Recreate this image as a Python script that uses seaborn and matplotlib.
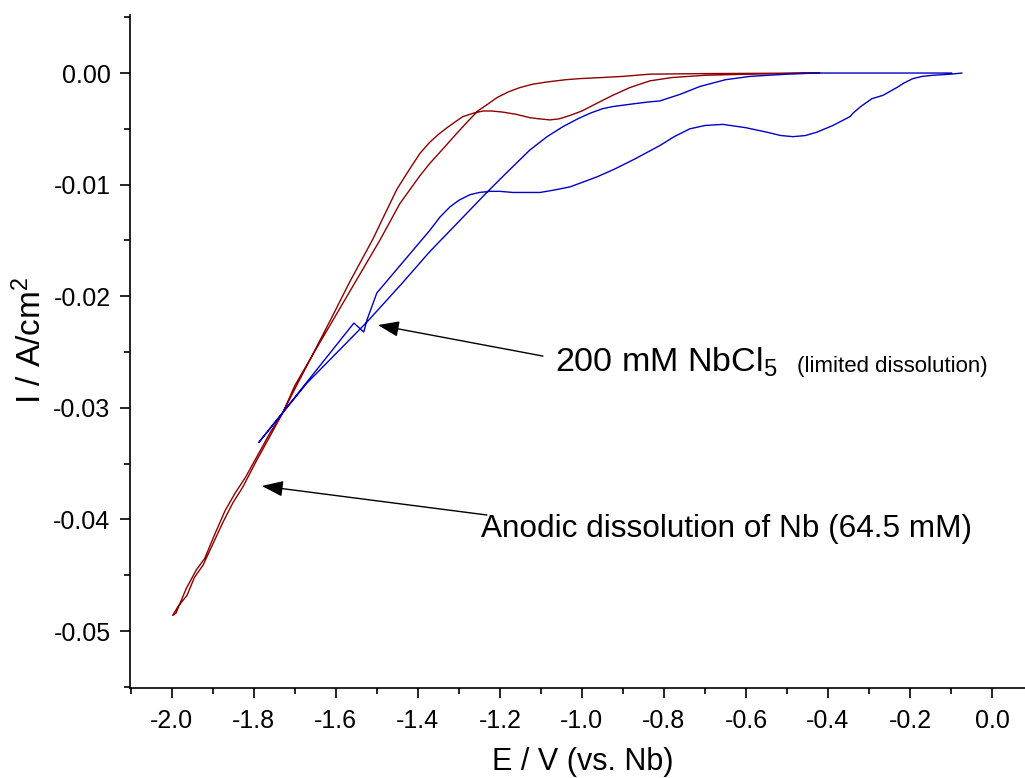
import numpy as np
import pandas as pd
import matplotlib
matplotlib.use("Agg")
import matplotlib.pyplot as plt
import seaborn as sns
from matplotlib.ticker import MultipleLocator, FormatStrFormatter

# ---------------- data ----------------
# Nb anodic dissolution (64.5 mM) - branch with hump/dip, right -> left
nb_fwd_E = [-0.42, -0.59, -0.70, -0.78, -0.834, -0.883, -0.925, -0.963, -1.000, -1.029,
            -1.055, -1.078, -1.105, -1.127, -1.160, -1.193, -1.220, -1.241, -1.265, -1.290,
            -1.310, -1.329, -1.350, -1.371, -1.395, -1.420, -1.451, -1.480, -1.510, -1.538,
            -1.566, -1.610, -1.659, -1.700, -1.729, -1.760, -1.793, -1.827, -1.851, -1.876,
            -1.900, -1.924, -1.945, -1.963, -1.985, -1.998]
nb_fwd_I = [0.0, -0.0001, -0.0002, -0.0004, -0.0007, -0.0013, -0.0020, -0.0027, -0.0034, -0.0038,
            -0.0041, -0.0042, -0.0041, -0.0040, -0.0037, -0.0035, -0.0034, -0.0034, -0.0036, -0.0039,
            -0.0044, -0.0049, -0.0055, -0.0062, -0.0072, -0.0086, -0.0104, -0.0126, -0.0149, -0.0168,
            -0.0187, -0.0219, -0.0254, -0.0283, -0.0304, -0.0325, -0.0347, -0.0371, -0.0385, -0.0403,
            -0.0422, -0.0441, -0.0452, -0.0468, -0.0478, -0.0486]
# return branch, left -> right
nb_rev_E = [-1.998, -1.990, -1.965, -1.940, -1.920, -1.895, -1.870, -1.845, -1.820, -1.790,
            -1.760, -1.729, -1.700, -1.659, -1.600, -1.549, -1.493, -1.444, -1.395, -1.371,
            -1.339, -1.305, -1.280, -1.254, -1.230, -1.207, -1.180, -1.151, -1.120, -1.085,
            -1.040, -1.005, -0.950, -0.900, -0.834, -0.700, -0.42]
nb_rev_I = [-0.0486, -0.0484, -0.0462, -0.0445, -0.0435, -0.0413, -0.0392, -0.0376, -0.0362, -0.0342,
            -0.0322, -0.0304, -0.0280, -0.0254, -0.0217, -0.0185, -0.0150, -0.0117, -0.0092, -0.0081,
            -0.0068, -0.0054, -0.0044, -0.0034, -0.0028, -0.0022, -0.0017, -0.0013, -0.0010, -0.0008,
            -0.0006, -0.0005, -0.0004, -0.0003, -0.0001, -0.00005, 0.0]

# 200 mM NbCl5 - wavy branch, right -> left (incl. jag)
nbcl_fwd_E = [-0.073, -0.10, -0.144, -0.170, -0.193, -0.215, -0.232, -0.266, -0.293, -0.320,
              -0.339, -0.346, -0.388, -0.427, -0.455, -0.485, -0.515, -0.549, -0.600, -0.656,
              -0.700, -0.737, -0.775, -0.810, -0.871, -0.920, -0.963, -1.029, -1.070, -1.102,
              -1.135, -1.168, -1.200, -1.224, -1.250, -1.273, -1.300, -1.322, -1.346, -1.371,
              -1.500, -1.524, -1.532, -1.556, -1.788]
nbcl_fwd_I = [0.0, -0.0001, -0.0002, -0.0003, -0.0005, -0.0009, -0.0013, -0.0020, -0.0023, -0.0030,
              -0.0036, -0.0039, -0.0047, -0.0053, -0.0056, -0.0057, -0.0056, -0.0053, -0.0049, -0.0046,
              -0.0047, -0.0050, -0.0057, -0.0065, -0.0077, -0.0086, -0.0093, -0.0102, -0.0105, -0.0107,
              -0.0107, -0.0107, -0.0106, -0.0106, -0.0107, -0.0109, -0.0114, -0.0120, -0.0129, -0.0141,
              -0.0197, -0.0221, -0.0232, -0.0224, -0.0331]
# return branch, left -> right
nbcl_rev_E = [-1.788, -1.671, -1.524, -1.440, -1.371, -1.300, -1.232, -1.180, -1.127, -1.085,
              -1.046, -1.010, -0.980, -0.950, -0.924, -0.883, -0.840, -0.810, -0.760, -0.712,
              -0.650, -0.590, -0.500, -0.427, -0.250, -0.098]
nbcl_rev_I = [-0.0331, -0.0278, -0.0223, -0.0189, -0.0160, -0.0133, -0.0107, -0.0088, -0.0069, -0.0057,
              -0.0048, -0.0041, -0.0036, -0.0032, -0.0030, -0.0028, -0.0026, -0.0025, -0.0019, -0.0012,
              -0.0006, -0.0003, -0.0001, 0.0, 0.0, 0.0]

x_ticks = [-2.0, -1.8, -1.6, -1.4, -1.2, -1.0, -0.8, -0.6, -0.4, -0.2, 0.0]
y_ticks = [0.00, -0.01, -0.02, -0.03, -0.04, -0.05]

label_nb = "Anodic dissolution of Nb (64.5 mM)"
label_nbcl = "200 mM NbCl$_5$"
label_nbcl_note = "(limited dissolution)"

# ---------------- styling ----------------
sns.set_style("ticks")
plt.rcParams["font.family"] = ["Liberation Sans", "DejaVu Sans"]
plt.rcParams["mathtext.fontset"] = "custom"
plt.rcParams["mathtext.rm"] = "Liberation Sans"
plt.rcParams["mathtext.it"] = "Liberation Sans"
plt.rcParams["mathtext.bf"] = "Liberation Sans"
plt.rcParams["axes.unicode_minus"] = False
for k in ["text.color", "axes.labelcolor", "xtick.color", "ytick.color", "axes.edgecolor"]:
    plt.rcParams[k] = "black"

df = pd.concat([
    pd.DataFrame({"E": nb_fwd_E + nb_rev_E, "I": nb_fwd_I + nb_rev_I, "trace": "Nb"}),
    pd.DataFrame({"E": nbcl_fwd_E + nbcl_rev_E, "I": nbcl_fwd_I + nbcl_rev_I, "trace": "NbCl5"}),
], ignore_index=True)

fig = plt.figure(figsize=(10.25, 7.78), dpi=100)
ax = fig.add_axes([130 / 1025, 1 - 688 / 778, (1025 - 130) / 1025, (688 - 15) / 778])

sns.lineplot(data=df, x="E", y="I", hue="trace", units="trace", estimator=None, sort=False,
             palette={"Nb": "#8E0000", "NbCl5": "#0000C8"}, linewidth=1.0, legend=False, ax=ax)

ax.set_xlim(-2.102, 0.0805)
ax.set_ylim(-0.0551, 0.0052)
ax.set_xticks(x_ticks)
ax.set_yticks(y_ticks)
ax.xaxis.set_minor_locator(MultipleLocator(0.1))
ax.yaxis.set_minor_locator(MultipleLocator(0.005))
ax.xaxis.set_major_formatter(FormatStrFormatter("%.1f"))
ax.yaxis.set_major_formatter(FormatStrFormatter("%.2f"))

sns.despine(ax=ax)
for s in ["left", "bottom"]:
    ax.spines[s].set_linewidth(1.2)
    ax.spines[s].set_color("black")
ax.tick_params(which="major", direction="out", length=7, width=1.2, labelsize=18, color="black",
               labelcolor="black")
ax.tick_params(which="minor", direction="out", length=4, width=1.2, color="black")
ax.tick_params(axis="x", which="major", pad=8)
ax.tick_params(axis="y", which="major", pad=7)

ax.set_xlabel("E / V (vs. Nb)", fontsize=22, labelpad=10)
ax.xaxis.label.set_x((583 - 130) / 895)
ax.set_ylabel("I / A/cm$^2$", fontsize=24, labelpad=4)
ax.yaxis.label.set_y((688 - 340) / 673)

arrow = dict(arrowstyle="-|>,head_length=0.65,head_width=0.24", color="black", lw=1.0,
             mutation_scale=20, shrinkA=0, shrinkB=0)
ax.annotate("", xy=(-1.4976, -0.02258), xytext=(-1.095, -0.02536), arrowprops=arrow)
ax.annotate("", xy=(-1.7805, -0.0370), xytext=(-1.2317, -0.0396), arrowprops=arrow)

ax.text(-1.066, -0.02679, label_nbcl, fontsize=24.5, ha="left", va="baseline")
ax.text(-0.4756, -0.02679, label_nbcl_note, fontsize=16, ha="left", va="baseline")
ax.text(-1.2463, -0.04158, label_nb, fontsize=22.7, ha="left", va="baseline")

fig.savefig("out.png", dpi=100)
